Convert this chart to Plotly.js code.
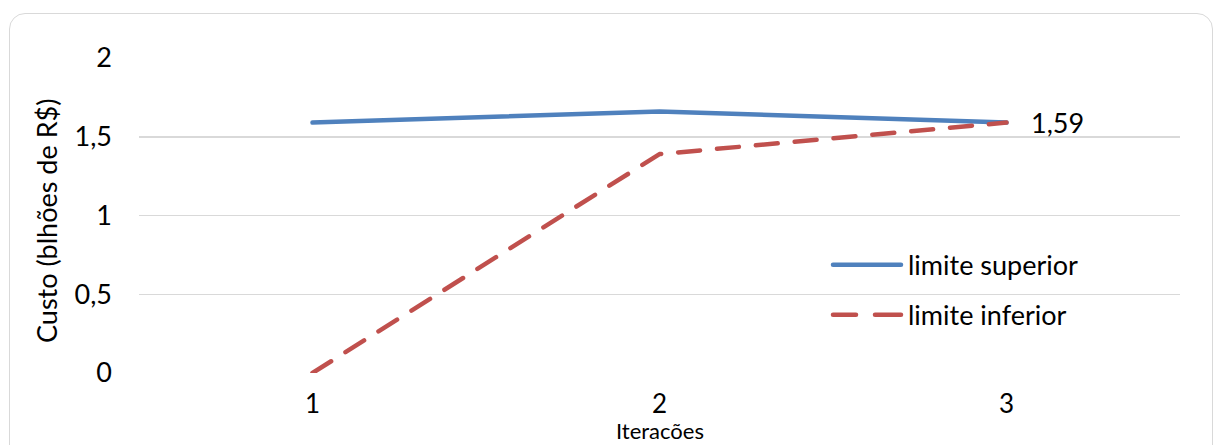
<!DOCTYPE html>
<html>
<head>
<meta charset="utf-8">
<script src="https://cdn.plot.ly/plotly-3.0.1.min.js"></script>
<style>
  html, body { margin: 0; padding: 0; background: #ffffff; }
  #wrap { position: relative; width: 1216px; height: 445px; overflow: hidden; }
  #chart { width: 1216px; height: 445px; }
  #frame {
    position: absolute; left: 9px; top: 13px; width: 1204px; height: 470px;
    border: 1.5px solid #d9d9d9; border-radius: 16px; pointer-events: none;
    box-sizing: border-box;
  }
  .scatterlayer path.js-line, .shapelayer path { stroke-linecap: round; stroke-linejoin: round; }
</style>
</head>
<body>
<div id="wrap">
  <div id="chart"></div>
  <div id="frame"></div>
</div>
<script>
// Iterations of the bounding procedure and the cost bounds (billions of R$)
const iteracoes = [1, 2, 3];
const limiteSuperior = [1.59, 1.66, 1.59];
const limiteInferior = [0, 1.39, 1.59];
const yTicks = [0, 0.5, 1, 1.5, 2];
const nomes = ['limite superior', 'limite inferior'];

const FONT = 'Lato, "Open Sans", sans-serif';
const AZUL = '#4f81bd';
const VERMELHO = '#c0504d';

const fmt = v => String(v).replace('.', ',');

// plot-area pixel geometry used for the hand-drawn legend
const W = 1216, H = 445;
const M = { l: 139, r: 36, t: 57.5, b: 71.5 };
const pw = W - M.l - M.r, ph = H - M.t - M.b;
const px = x => (x - M.l) / pw;
const py = y => (H - M.b - y) / ph;

const traces = [
  {
    x: iteracoes, y: limiteSuperior, name: nomes[0], type: 'scatter', mode: 'lines',
    line: { color: AZUL, width: 4.5 }, hoverinfo: 'skip'
  },
  {
    x: iteracoes, y: limiteInferior, name: nomes[1], type: 'scatter', mode: 'lines',
    line: { color: VERMELHO, width: 4.5, dash: '22px,17px' }, hoverinfo: 'skip'
  }
];

const last = iteracoes.length - 1;

const layout = {
  width: W, height: H,
  margin: M,
  paper_bgcolor: '#ffffff', plot_bgcolor: '#ffffff',
  showlegend: false,
  font: { family: FONT, size: 27, color: '#000000' },
  separators: ',.',
  xaxis: {
    range: [0.5, 3.5], tickvals: iteracoes, ticktext: iteracoes.map(String),
    showgrid: false, zeroline: false, showline: false, ticks: '',
    ticklabelstandoff: 13, fixedrange: true,
    tickfont: { family: FONT, size: 26, color: '#000000' }
  },
  yaxis: {
    range: [0, 2], tickvals: yTicks, ticktext: yTicks.map(fmt),
    showgrid: true, gridcolor: '#d9d9d9', gridwidth: 1.5,
    zeroline: false, showline: false, ticks: '',
    ticklabelstandoff: 26, fixedrange: true,
    tickfont: { family: FONT, size: 27, color: '#000000' }
  },
  shapes: [
    { type: 'line', xref: 'paper', yref: 'paper', x0: px(833), x1: px(901), y0: py(265), y1: py(265),
      line: { color: AZUL, width: 4.5 } },
    { type: 'line', xref: 'paper', yref: 'paper', x0: px(833), x1: px(856), y0: py(315), y1: py(315),
      line: { color: VERMELHO, width: 4.5 } },
    { type: 'line', xref: 'paper', yref: 'paper', x0: px(875), x1: px(901), y0: py(315), y1: py(315),
      line: { color: VERMELHO, width: 4.5 } }
  ],
  annotations: [
    { xref: 'paper', yref: 'paper', x: px(906), y: py(265), xanchor: 'left', yanchor: 'middle',
      text: nomes[0], showarrow: false, font: { family: FONT, size: 27, color: '#000000' } },
    { xref: 'paper', yref: 'paper', x: px(906), y: py(315), xanchor: 'left', yanchor: 'middle',
      text: nomes[1], showarrow: false, font: { family: FONT, size: 27, color: '#000000' } },
    { xref: 'x', yref: 'y', x: iteracoes[last], y: limiteSuperior[last], xanchor: 'left', yanchor: 'middle',
      xshift: 22, text: fmt(limiteSuperior[last]), showarrow: false,
      font: { family: FONT, size: 27, color: '#000000' } },
    { xref: 'paper', yref: 'paper', x: 0.5, y: py(446), xanchor: 'center', yanchor: 'bottom',
      borderpad: 0, text: 'Iteracões', showarrow: false,
      font: { family: FONT, size: 22, color: '#000000' } },
    { xref: 'paper', yref: 'paper', x: px(47), y: py(221), xanchor: 'center', yanchor: 'middle',
      textangle: -90, text: 'Custo (blhões de R$)', showarrow: false,
      font: { family: FONT, size: 27, color: '#000000' } }
  ]
};

Plotly.newPlot('chart', traces, layout, { displayModeBar: false, staticPlot: true });
</script>
</body>
</html>
